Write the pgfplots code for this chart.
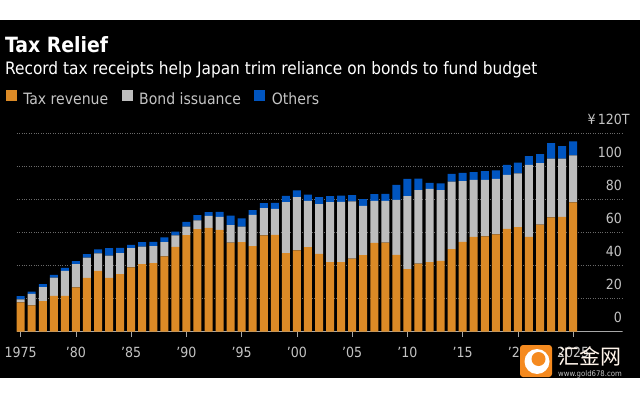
\documentclass[border=0pt]{standalone}
\usepackage{pgfplots}
\usepackage{pgfplotstable}
\usepackage{fontspec}
\pgfplotsset{compat=1.18}
\setmainfont{DejaVu Sans Condensed}
\newfontfamily\cjk{Noto Sans CJK SC}
\definecolor{taxc}{HTML}{DB8A26}
\definecolor{bondc}{HTML}{BDBDBD}
\definecolor{otherc}{HTML}{0055C0}
\definecolor{labelc}{HTML}{C4C4C4}
\definecolor{gridc}{HTML}{6A6A6A}
\definecolor{logoc}{HTML}{F58A1F}

% increments, stacked: tax revenue, bond issuance, others (trillion yen)
\pgfplotstableread{
year tax bond others
1975 17.6 1.8 2.0
1976 15.8 7.0 1.4
1977 18.4 8.5 1.8
1978 21.6 11.1 1.6
1979 21.6 15.2 1.8
1980 26.7 14.1 1.8
1981 32.5 12.3 2.1
1982 36.8 10.5 2.4
1983 32.5 13.5 4.5
1984 34.7 12.8 3.2
1985 38.8 11.7 2.0
1986 40.8 10.7 2.6
1987 41.4 10.3 2.6
1988 45.5 8.6 2.9
1989 51.3 6.9 2.4
1990 58.4 5.2 2.9
1991 62.0 5.3 3.2
1992 62.8 7.3 2.2
1993 61.6 7.9 3.0
1994 53.9 10.5 5.9
1995 54.1 9.5 4.9
1996 51.7 19.0 2.8
1997 58.2 16.5 3.1
1998 58.6 15.7 3.7
1999 47.5 30.9 3.8
2000 49.1 32.3 4.1
2001 51.1 28.1 3.8
2002 47.1 30.1 4.2
2003 42.0 36.4 3.6
2004 42.0 36.6 3.8
2005 44.2 34.6 3.8
2006 46.3 29.9 4.0
2007 53.7 25.5 4.0
2008 53.9 25.3 4.2
2009 46.5 33.3 9.1
2010 37.8 44.2 10.5
2011 41.2 44.5 7.0
2012 42.0 44.5 3.6
2013 42.8 42.9 4.0
2014 49.9 41.0 4.7
2015 54.3 36.8 5.1
2016 57.4 34.5 4.7
2017 57.6 34.3 5.3
2018 58.8 33.7 5.1
2019 62.2 32.7 6.1
2020 63.2 32.6 6.6
2021 57.4 43.6 5.3
2022 64.8 37.2 5.5
2023 69.1 35.7 9.3
2024 69.5 35.3 7.5
2025 78.2 28.5 8.5
}\budget

\begin{document}
\begin{tikzpicture}[x=1pt,y=1pt]
\fill[white] (0,0) rectangle (640,400);
\path[use as bounding box] (0,0) rectangle (640,400);
\fill[black] (0,22) rectangle (640,380);

\node[anchor=base west,inner sep=0pt,white,font=\bfseries\fontsize{21}{24}\selectfont] at (5,347) {Tax Relief};
\node[anchor=base west,inner sep=0pt,white,font=\fontsize{17.1}{20}\selectfont] at (5,326) {Record tax receipts help Japan trim reliance on bonds to fund budget};

\begin{axis}[
    at={(16.7pt,68.5pt)},
    anchor=south west,
    scale only axis,
    width=605.3pt,
    height=198pt,
    xmin=1974.64, xmax=2029.42,
    ymin=0, ymax=120,
    ybar stacked,
    bar width=8pt,
    axis x line*=bottom,
    axis y line*=right,
    axis line style={-},
    y axis line style={draw=none},
    x axis line style={draw=labelc!85!black,line width=0.8pt},
    xtick={1975,1980,...,2025},
    xticklabels={1975,'80,'85,'90,'95,'00,'05,'10,'15,'20,2025},
    ytick={0,20,...,120},
    yticklabels={0,20,40,60,80,100,{¥\,120\rlap{T}\hspace{-4pt}}},
    ymajorgrids=true,
    grid style={gridc,dotted,line width=0.8pt},
    major tick length=5pt,
    tick align=outside,
    x tick style={labelc!85!black,line width=0.8pt},
    y tick style={draw=none},
    tick label style={labelc,font=\fontsize{14}{16}\selectfont},
    x tick label style={yshift=-7pt},
    y tick label style={anchor=south east,xshift=-1.5pt,yshift=5.5pt},
    legend columns=3,
    legend cell align=left,
    legend style={at={(-11pt,223.5pt)},anchor=south west,draw=none,fill=none,text=labelc,
        font=\fontsize{15.6}{18}\selectfont,inner sep=0pt,
        /tikz/every even column/.append style={column sep=11.5pt},
        /tikz/every odd column/.append style={column sep=4.5pt}},
    legend image code/.code={\fill[#1] (0pt,-1.5pt) rectangle (11pt,9.5pt);},
]
\addplot[fill=taxc,draw=none] table[x=year,y=tax] {\budget};
\addplot[fill=bondc,draw=none] table[x=year,y=bond] {\budget};
\addplot[fill=otherc,draw=none] table[x=year,y=others] {\budget};
\legend{Tax revenue,Bond issuance,Others}
\end{axis}

% watermark
\fill[logoc,rounded corners=3pt] (520,23) rectangle (552,55);
\fill[white] (537,38.5) circle (12.5pt);
\fill[logoc] (538.5,41) circle (7pt);
\node[anchor=base west,inner sep=0pt,text=white!92!orange,font=\cjk\fontsize{21}{23}\selectfont] at (558,35.5) {汇金网};
\node[anchor=base west,inner sep=0pt,text=labelc,font=\fontsize{7.7}{8}\selectfont] at (558,23.5) {www.gold678.com};
\end{tikzpicture}
\end{document}
